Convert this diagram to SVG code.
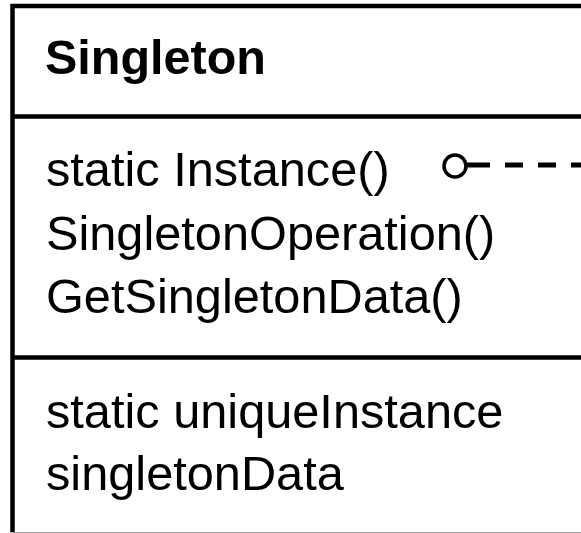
<svg xmlns="http://www.w3.org/2000/svg" width="581" height="533" viewBox="0 0 581 533">
  <style>
    .border { fill: #ffffff; stroke: #000000; stroke-width: 4.5; }
    .divider { stroke: #000000; stroke-width: 4.5; }
    .title { font-family: "Liberation Sans", Arial, sans-serif; font-weight: bold; font-size: 48.5px; fill: #000000; }
    .member { font-family: "Liberation Sans", Arial, sans-serif; font-size: 48.7px; fill: #000000; }
    .dash { stroke: #000000; stroke-width: 5; fill: none; }
    .knob { stroke: #000000; stroke-width: 3.5; fill: #ffffff; }
  </style>
  <rect x="0" y="0" width="581" height="533" fill="#ffffff"/>
  <g id="singleton">
    <rect class="border" x="12.5" y="6" width="620" height="540"/>
    <line class="divider" x1="12.5" y1="116.5" x2="600" y2="116.5"/>
    <line class="divider" x1="12.5" y1="357.5" x2="600" y2="357.5"/>
    <line x1="10" y1="532.5" x2="581" y2="532.5" stroke="#a0a0a0" stroke-width="1"/>
    <text class="title" x="45" y="74">Singleton</text>
    <text class="member" x="46" y="186">static Instance()</text>
    <text class="member" x="46" y="250">SingletonOperation()</text>
    <text class="member" x="46" y="313">GetSingletonData()</text>
    <text class="member" x="46" y="428">static uniqueInstance</text>
    <text class="member" x="46" y="490">singletonData</text>
  </g>
  <g id="connectors">
    <line class="dash" x1="467" y1="165" x2="600" y2="165" stroke-dasharray="23 15 18 15 18 15 18 15"/>
    <circle class="knob" cx="455" cy="166" r="11"/>
  </g>
</svg>
